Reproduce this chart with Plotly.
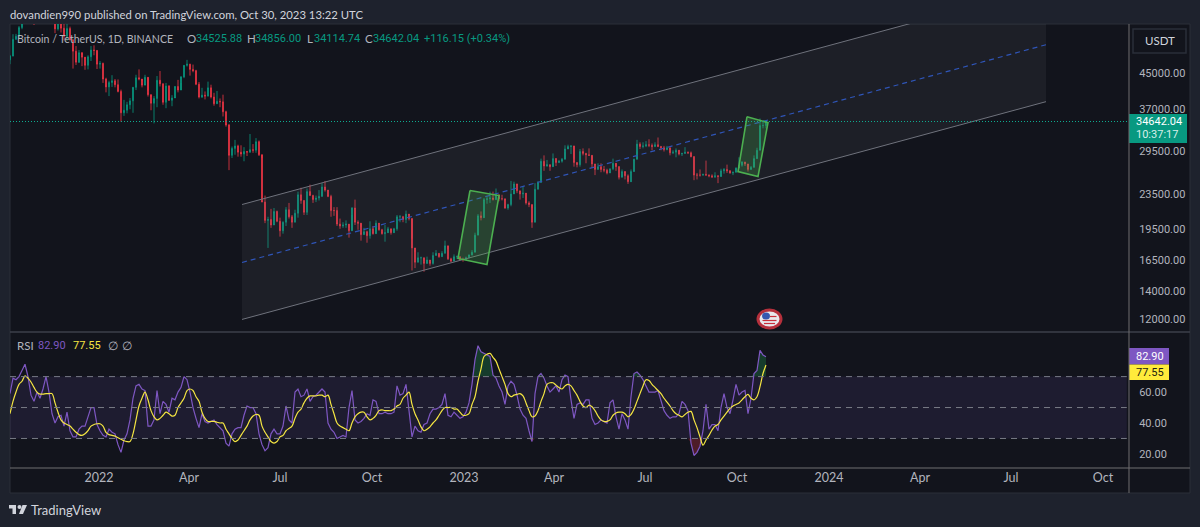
import numpy as np
import pandas as pd
import plotly.graph_objects as go
from plotly.subplots import make_subplots

W, H = 1200, 527

# three-day samples
start_date = "2021-10-04"
close_vals = [
    49200,53800,54700,57300,60900,64200,60700,63100,60600,61300,
    62900,61500,66900,64100,63600,56900,58900,57100,54700,57000,
    53600,50500,47600,50100,48900,46800,49000,50800,50700,47100,
    47300,43500,41700,42700,43100,42200,40700,36300,36800,37900,
    38700,41600,43800,43500,42100,43900,40000,38200,39200,43200,
    42400,38400,41900,38800,39300,41800,41000,44000,46800,47100,
    45800,45500,42300,39500,39900,39700,41500,39500,38100,38600,
    38500,36500,34000,28900,30000,30400,29400,29100,29500,29400,
    29800,29700,31100,29000,22500,20400,20500,19900,21400,20300,
    19300,20200,21600,20800,20200,21200,23400,22700,21300,23800,
    23300,22800,23000,23200,24400,24000,23200,21500,21500,20000,
    19800,19900,20000,19300,21800,20200,20100,18900,19200,18800,
    19500,19000,20100,19400,19000,19100,19500,19100,19500,20800,
    20800,20500,21100,20600,17600,16300,16700,16700,16200,16500,
    16200,16900,17100,16800,17100,17800,16600,16400,16800,16800,
    16550,16550,16700,16950,17200,18850,20900,20700,22800,22900,
    23000,22800,23400,22900,22900,21800,22200,23500,24800,23900,
    23500,23600,22400,22200,20200,24100,25000,28000,27300,27500,
    27200,28400,27800,28000,28300,29900,30300,30400,27800,27500,
    29500,29200,29000,28900,27600,26800,27200,26800,26700,26300,
    26900,27700,27200,25700,26500,25900,25100,26500,28300,30700,
    30300,30400,30600,30500,30300,30600,30300,30100,29800,30100,
    29300,29400,29700,29100,29200,29400,29300,28700,26000,26000,
    26000,26100,26000,25900,25750,25900,25800,26600,26800,26600,
    26300,26400,27000,27400,27900,27600,26800,27100,28400,29700,
    33900,33900,34642,
]
high_vals = [
    49500,55300,55400,57800,62900,64500,66900,63700,62400,62400,
    63900,63000,68000,69000,66300,64000,60000,58800,59200,59000,
    57600,53900,51900,50800,49500,48500,49400,51900,52100,48500,
    47900,47500,43800,43100,44400,43500,43400,41100,38900,38500,
    39300,41700,44500,45800,43000,44500,40900,39500,39700,44200,
    45400,42500,42600,42100,39900,41900,43300,44200,46900,48200,
    47200,47000,45700,42800,41500,40700,42900,42200,40400,40800,
    39200,40000,36700,34200,30300,31400,30600,30500,30200,29600,
    32400,30700,31700,31300,28500,23300,20800,21700,21800,21500,
    20700,20300,21900,22400,21000,21600,23800,24300,22700,24200,
    24700,23400,23300,24000,24900,25200,24000,23400,21900,21900,
    20600,20200,20400,19600,21900,22800,20400,19700,19600,19300,
    20300,19800,20400,20000,19500,19900,19700,19300,19600,21000,
    21000,20900,21500,21000,18500,17200,17200,16800,16400,16800,
    16500,17200,17400,17100,17300,18300,17500,16700,17000,16900,
    16800,16700,16800,17000,17400,19100,21100,21400,23000,23200,
    23800,23800,24200,23400,23400,22700,22300,25200,25100,24600,
    23700,24500,23500,22600,21800,24900,25200,28400,28900,28200,
    27500,29200,28500,28200,28500,30500,30600,30500,28400,27900,
    29900,30000,29300,30000,28000,27500,27700,27700,27300,26900,
    26900,28400,27400,27300,26800,26300,26100,26800,28400,31400,
    31000,31000,31200,31500,30800,31000,31800,30400,30400,30400,
    29700,29700,30000,29500,29300,30200,29500,29500,28800,26300,
    26800,26200,28100,26100,26100,26400,26000,26900,27000,27500,
    26700,26500,27100,28600,28000,27900,27100,27300,28900,30100,
    35200,34800,34856,
]
low_vals = [
    47100,49100,53700,53900,56800,61300,60000,60100,58100,59500,
    60000,60600,61000,62300,63300,55600,56400,55800,53500,53400,
    53500,46000,46900,47400,46600,45700,45800,47900,49400,45900,
    46000,42600,40500,39700,41700,41600,40500,34600,35700,36200,
    37000,36300,41000,43200,41600,42400,39600,36800,34300,37400,
    41800,37900,37200,38700,37600,39500,40500,42600,43700,46500,
    44300,45100,42100,39200,39300,39000,39600,39200,37700,38200,
    37400,35600,33700,26700,28500,29000,28700,28700,28000,28800,
    29300,29300,29300,28800,22600,20100,17600,19600,19900,20200,
    18700,19000,19800,20600,19600,20200,20700,22300,21000,21000,
    23300,22400,22500,22700,23800,23800,23100,20800,20900,19800,
    19500,19600,19600,18600,21000,19900,19400,18300,18900,18100,
    18500,18900,19700,19300,18900,18200,19200,18900,19200,19300,
    20200,20200,20100,20400,15600,15800,16300,16100,15500,16300,
    16000,16100,16900,16700,16800,17100,16500,16300,16500,16600,
    16500,16350,16500,16650,16900,17400,20600,20400,20800,22300,
    22400,22700,23300,22600,22700,21700,21600,22000,23900,23600,
    22800,23000,22200,21900,19600,21900,24100,26000,26600,27200,
    26600,27700,27300,27800,27800,29400,30200,29100,27200,27100,
    27200,28900,27700,28800,27000,26000,26800,26400,26400,26100,
    26300,26700,26600,25400,26100,25400,24800,25200,26700,29500,
    29900,30000,30200,30200,29700,30200,30200,29700,29500,29700,
    28900,29100,28600,28900,28800,29300,29100,28600,25300,25400,
    25800,25900,25900,25700,25600,25600,24900,26000,26200,26300,
    26200,26000,26900,27100,27200,27300,26500,26800,27900,28600,
    29900,33400,33400,
]
rsi_vals = [
    59,69,68,70,74,78,70,58,54,60,56,62,70,60,46,40,44,45,38,47,35,31,31,36,38,38,44,50,50,39,
    35,32,31,36,34,33,26,21,29,33,42,56,64,65,62,61,38,38,42,61,46,54,52,47,56,55,60,63,70,68,
    60,50,43,37,46,41,40,41,42,39,37,35,27,25,33,36,37,37,45,51,50,50,46,33,26,22,24,33,36,33,
    33,38,51,42,40,60,62,57,58,62,54,57,58,60,62,60,40,36,34,30,31,32,31,50,61,42,40,41,43,46,
    45,55,54,46,46,47,46,46,47,64,58,
    59,65,47,31,38,35,34,39,40,46,49,49,50,52,59,45,44,47,45,43,44,47,53,65,81,90,86,85,84,83,
    71,69,64,60,52,64,67,65,58,49,45,43,35,28,59,70,72,69,64,60,62,64,60,68,71,70,55,43,52,53,
    52,55,55,43,39,40,42,41,40,53,55,44,36,46,42,36,57,72,73,71,68,64,60,60,60,61,54,48,45,43,
    44,44,46,54,52,48,27,19,21,25,35,52,36,39,39,35,50,59,50,46,55,65,58,60,61,46,56,72,74,87,
    84,82.9,
]
rsi_ma_vals = [
    46,54,60,65,67,70.5,69,66.5,63,60,58.7,58.7,59,59,59,53,47,42,40,39,38,36,34,32.5,32,33,35,38,39,39.5,
    39.5,38,34,32.5,32,31.5,30.5,29.5,28.5,28,28,33,42,51,56,60,55,48,44,42,43,45,47,46,44.5,45,50,53,56,61,
    62,61,57,54,47,43,41,41,41,40.5,40,40,36,33,30,28,29,32,35,38,42,44.5,45.5,45,38,34,31,28,27,28,
    31,32,35,36.5,38,43,47,49,53,56,57.5,57.5,57.5,58,58,57,58,52,46,40,38,37,36,35,40,44,46,47,47,44,
    42,43,45,48,48.5,48,48,48,49,51,52,
    56,58,60,52,46,42,37.5,35,36,37.5,40,42,45,48,50,50,50,49,49,47,45,45,46,52,57,67,75,83,84.5,85,
    82.5,80,75,70,65,59,57,58,58.5,59,57.5,53,48,44,44.5,48,54,59,65,66,66,64.5,63,62,64,65,64,61,58,54,
    51,50,51.5,50.5,48,44.5,42,41,41,42,45,46.5,47,47,46,44,45.5,49,54,59,64,68,67.5,65,63,61,59,56,53.5,51,
    48,46,45,44,45.5,47,47.5,42,37,31,25.7,29,32,35.5,38,39,42,44.5,47,49.5,51,52,53,55,57,58.5,56,55,57,63.5,
    72,77.55,
]
channel_dates = ["2022-05-24", "2024-08-05"]
channel_upper = [22210, 71300]
channel_mid = [16280, 52270]
channel_lower = [12000, 38530]
box1_dates = ["2023-01-07", "2023-02-05", "2023-01-24", "2022-12-26", "2023-01-07"]
box1_prices = [23940, 23300, 16110, 16640, 23940]
box2_dates = ["2023-10-11", "2023-11-01", "2023-10-22", "2023-10-02", "2023-10-11"]
box2_prices = [35560, 34440, 25800, 26500, 35560]
last_price = 34642.04
price_ticks = [45000, 37000, 29500, 23500, 19500, 16500, 14000, 12000]
rsi_ticks = [60, 40, 20]
date_ticks = ["2022-01-01", "2022-04-01", "2022-07-01", "2022-10-01", "2023-01-01", "2023-04-01",
              "2023-07-01", "2023-10-01", "2024-01-01", "2024-04-01", "2024-07-01", "2024-10-01"]
date_labels = ["2022", "Apr", "Jul", "Oct", "2023", "Apr", "Jul", "Oct", "2024", "Apr", "Jul", "Oct"]

FONT = "Lato"
NUM_FONT = "Roboto"
UP, DOWN = "#089981", "#f23645"
TEXT = "#b2b5be"
BG, PANEL = "#1e222d", "#12141c"


def px_x(x):
    return x / W


def px_y(y):
    return 1 - y / H


def rect(x0, y0, x1, y1, **kw):
    return dict(type="rect", xref="paper", yref="paper", x0=px_x(x0), x1=px_x(x1),
                y0=px_y(y0), y1=px_y(y1), **kw)


def oval(x0, y0, x1, y1, **kw):
    return dict(type="circle", xref="paper", yref="paper", x0=px_x(x0), x1=px_x(x1),
                y0=px_y(y1), y1=px_y(y0), **kw)


def path(points, close=True, **kw):
    d = "M" + "L".join(f"{px_x(a):.5f},{px_y(b):.5f}" for a, b in points) + ("Z" if close else "")
    return dict(type="path", xref="paper", yref="paper", path=d, **kw)


def label(x, y, text, color=TEXT, size=11.5, anchor="left", family=FONT):
    # annotations carry 2px of padding, so pull the text back by that
    shift = -2 if anchor == "left" else 0
    return dict(x=px_x(x + shift), y=px_y(y), xref="paper", yref="paper", text=text, showarrow=False,
                xanchor=anchor, yanchor="middle", font=dict(family=family, size=size, color=color))


def num(x, y, text, color=TEXT):
    return label(x, y, text, color, size=11, family=NUM_FONT)


dates = pd.date_range(start_date, periods=len(close_vals), freq="3D")
closes = np.array(close_vals, dtype=float)
opens = np.concatenate([[48200.0], closes[:-1]])
rsi = np.array(rsi_vals, dtype=float)

fig = make_subplots(rows=2, cols=1, shared_xaxes=True)

# channel first so the candles sit on top
fig.add_trace(go.Scatter(x=channel_dates, y=channel_lower, mode="lines",
                         line=dict(color="#6f727c", width=1)), row=1, col=1)
fig.add_trace(go.Scatter(x=channel_dates, y=channel_upper, mode="lines", fill="tonexty",
                         fillcolor="rgba(120,123,134,0.11)",
                         line=dict(color="#6f727c", width=1)), row=1, col=1)
fig.add_trace(go.Scatter(x=channel_dates, y=channel_mid, mode="lines",
                         line=dict(color="#2f55b8", width=1.2, dash="5px,4px")), row=1, col=1)
fig.add_trace(go.Candlestick(x=dates, open=opens, high=high_vals, low=low_vals, close=closes,
                             increasing=dict(line=dict(color=UP, width=0.8), fillcolor=UP),
                             decreasing=dict(line=dict(color=DOWN, width=0.8), fillcolor=DOWN),
                             whiskerwidth=0), row=1, col=1)
for bx, by in [(box1_dates, box1_prices), (box2_dates, box2_prices)]:
    fig.add_trace(go.Scatter(x=bx, y=by, mode="lines", fill="toself",
                             fillcolor="rgba(76,175,80,0.25)",
                             line=dict(color="#4caf50", width=1.6)), row=1, col=1)
fig.add_trace(go.Scatter(x=[dates[0], "2024-10-27"], y=[last_price, last_price], mode="lines",
                         line=dict(color="#0fae93", width=1, dash="1px,2px")), row=1, col=1)

# overbought / oversold tint, only where the reference shows it
recent = dates >= "2023-01-01"
base_hi = np.full(len(rsi), 70.0)
base_lo = np.full(len(rsi), 30.0)
fig.add_trace(go.Scatter(x=dates, y=base_hi, mode="lines", line=dict(width=0)), row=2, col=1)
fig.add_trace(go.Scatter(x=dates, y=np.where(recent, np.maximum(rsi, 70), 70), mode="lines",
                         fill="tonexty", fillcolor="rgba(30,120,70,0.4)", line=dict(width=0)), row=2, col=1)
fig.add_trace(go.Scatter(x=dates, y=base_lo, mode="lines", line=dict(width=0)), row=2, col=1)
fig.add_trace(go.Scatter(x=dates, y=np.where(recent, np.minimum(rsi, 30), 30), mode="lines",
                         fill="tonexty", fillcolor="rgba(170,40,60,0.4)", line=dict(width=0)), row=2, col=1)
fig.add_trace(go.Scatter(x=dates, y=rsi, mode="lines",
                         line=dict(color="#7e57c2", width=1.2)), row=2, col=1)
fig.add_trace(go.Scatter(x=dates, y=rsi_ma_vals, mode="lines",
                         line=dict(color="#f5e642", width=1.2, shape="spline")), row=2, col=1)

x_range = [start_date, "2024-10-27"]
fig.update_xaxes(range=x_range, domain=[px_x(10), px_x(1129)], showgrid=False, zeroline=False,
                 rangeslider_visible=False, showline=False, tickmode="array", tickvals=date_ticks,
                 ticktext=date_labels, ticklen=0, tickfont=dict(family=FONT, size=12.5, color=TEXT))
fig.update_yaxes(side="right", showgrid=False, zeroline=False, ticks="outside", ticklen=7,
                 tickcolor="rgba(0,0,0,0)", tickfont=dict(family=NUM_FONT, size=11, color=TEXT))
fig.update_yaxes(row=1, col=1, type="log", range=[np.log10(11280), np.log10(58410)],
                 domain=[px_y(331), px_y(24)], tickmode="array", tickvals=price_ticks,
                 ticktext=[f"{v:.2f}" for v in price_ticks])
fig.update_yaxes(row=2, col=1, range=[10.9, 98.2], domain=[px_y(468), px_y(333)], tickmode="array",
                 tickvals=rsi_ticks, ticktext=[f"{v:.2f}" for v in rsi_ticks])

shapes = [
    rect(10, 24, 1190, 493, fillcolor=PANEL, line=dict(color="#2a2e39", width=1), layer="below"),
    dict(type="rect", xref="x2 domain", yref="y2", x0=0, x1=0.998, y0=30, y1=70,
         fillcolor="rgba(126,87,194,0.12)", line=dict(width=0), layer="below"),
    rect(1133, 29, 1186, 53, fillcolor="rgba(0,0,0,0)", line=dict(color="#2a2e39", width=1.5)),
    rect(1129, 114, 1187, 143, fillcolor=UP, line=dict(width=0)),
    rect(1129, 348, 1169, 364.5, fillcolor="#7e57c2", line=dict(width=0)),
    rect(1129, 364.5, 1169, 380, fillcolor="#ffeb3b", line=dict(width=0)),
    path([(10, 332), (1190, 332)], close=False, line=dict(color="#3c3f4a", width=1.5)),
    path([(10, 468), (1190, 468)], close=False, line=dict(color="#6f6e70", width=1)),
    path([(1129, 24), (1129, 493)], close=False, line=dict(color="#6f6e70", width=1)),
    # event flag
    oval(758, 310, 781, 328, fillcolor="#e8e8ec", line=dict(color="#b5303c", width=3)),
    oval(762, 312.5, 770, 319.5, fillcolor="#3558b0", line=dict(width=0)),
    path([(770, 316.5), (776.5, 316.5)], close=False, line=dict(color="#c8303c", width=1.2)),
    path([(762.5, 320.5), (776.5, 320.5)], close=False, line=dict(color="#c8303c", width=1.2)),
    path([(764, 323.5), (775, 323.5)], close=False, line=dict(color="#c8303c", width=1.2)),
    # logo
    path([(9, 505), (16, 505), (16, 514), (12.5, 514), (12.5, 508.5), (9, 508.5)],
         fillcolor="#d1d4dc", line=dict(width=0)),
    path([(22.5, 505), (27, 505), (23, 514), (19, 514)], fillcolor="#d1d4dc", line=dict(width=0)),
    oval(17.5, 505, 21.5, 509, fillcolor="#d1d4dc", line=dict(width=0)),
]
for level in [70, 50, 30]:
    shapes.append(dict(type="line", xref="x2 domain", yref="y2", x0=0, x1=0.998, y0=level, y1=level,
                       line=dict(color="#787b86", width=1, dash="6px,5px")))

annotations = [
    label(10, 14, "dovandien990 published on TradingView.com, Oct 30, 2023 13:22 UTC", "#d1d4dc", 11.3),
    label(17, 39, "Bitcoin / TetherUS, 1D, BINANCE", size=10.6),
    label(187, 39, "O"), num(196, 39, "34525.88", UP),
    label(247, 39, "H"), num(255, 39, "34856.00", UP),
    label(307, 39, "L"), num(314, 39, "34114.74", UP),
    label(365, 39, "C"), num(373, 39, "34642.04", UP),
    num(424, 39, "+116.15 (+0.34%)", UP),
    label(17, 345, "RSI"), num(38, 345, "82.90", "#7e57c2"), num(73, 345, "77.55", "#f5e642"),
    label(108, 345, "∅"), label(122, 345, "∅"),
    label(1159.5, 41, "USDT", "#d1d4dc", anchor="center"),
    num(1136, 122, "34642.04", "#ffffff"), num(1136, 135, "10:37:17", "#d8f0ea"),
    num(1136, 356, "82.90", "#ffffff"), num(1136, 372.5, "77.55", "#1b1b10"),
    label(31, 510, "TradingView", "#d1d4dc", 13),
]

fig.update_layout(width=W, height=H, autosize=False, margin=dict(l=0, r=0, t=0, b=0),
                  paper_bgcolor=BG, plot_bgcolor="rgba(0,0,0,0)", showlegend=False, boxgap=0.6,
                  shapes=shapes, annotations=annotations, hovermode=False)

fig.write_html("out.html", config=dict(displayModeBar=False),
               post_script="document.body.style.margin='0';document.body.style.background='#1e222d';")
